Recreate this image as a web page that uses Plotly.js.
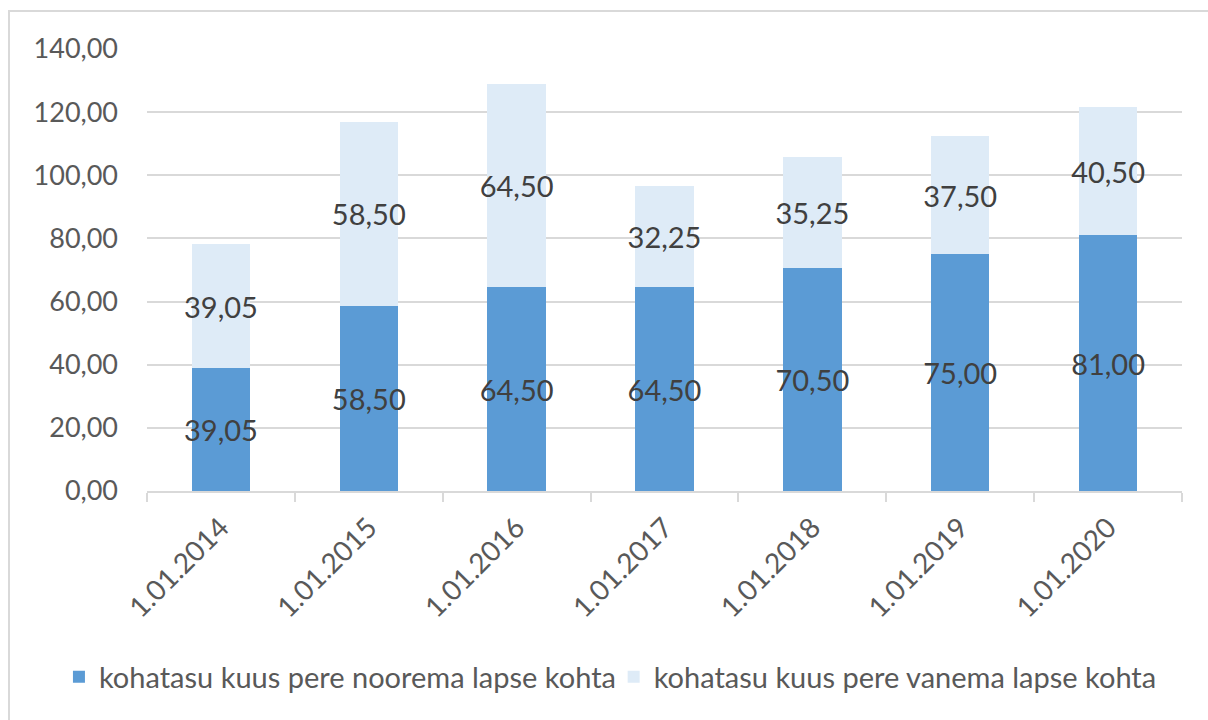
<!DOCTYPE html>
<html>
<head>
<meta charset="utf-8">
<script src="https://cdn.plot.ly/plotly-3.0.1.min.js"></script>
<style>
  html, body { margin: 0; padding: 0; background: #fff; }
  #chart { width: 1208px; height: 720px; }
</style>
</head>
<body>
<div id="chart"></div>
<script>
const categories = ["1.01.2014", "1.01.2015", "1.01.2016", "1.01.2017", "1.01.2018", "1.01.2019", "1.01.2020"];
const youngerChild = [39.05, 58.50, 64.50, 64.50, 70.50, 75.00, 81.00];
const olderChild = [39.05, 58.50, 64.50, 32.25, 35.25, 37.50, 40.50];
const seriesNames = ["kohatasu kuus pere noorema lapse kohta", "kohatasu kuus pere vanema lapse kohta"];
const yTicks = [0, 20, 40, 60, 80, 100, 120, 140];

const FONT = "Lato, 'Noto Sans', sans-serif";
const labelFont = { family: FONT, size: 29, color: "#404040" };

const traces = [
  {
    type: "bar", name: seriesNames[0], x: categories, y: youngerChild,
    marker: { color: "#5b9bd5" }, legend: "legend",
    texttemplate: "%{y:.2f}", textposition: "inside", insidetextanchor: "middle",
    textfont: labelFont, textangle: 0, constraintext: "none", cliponaxis: false,
    hoverinfo: "x+y"
  },
  {
    type: "bar", name: seriesNames[1], x: categories, y: olderChild,
    marker: { color: "#deebf7" }, legend: "legend2",
    texttemplate: "%{y:.2f}", textposition: "inside", insidetextanchor: "middle",
    textfont: labelFont, textangle: 0, constraintext: "none", cliponaxis: false,
    hoverinfo: "x+y"
  }
];

const legendBase = {
  orientation: "h", xref: "container", yref: "container",
  xanchor: "left", y: (720 - 677) / 720, yanchor: "middle",
  font: { family: FONT, size: 29, color: "#595959" },
  itemwidth: 30, bgcolor: "rgba(0,0,0,0)"
};

const layout = {
  width: 1208, height: 720,
  margin: { l: 147, r: 26, t: 49, b: 229 },
  paper_bgcolor: "#ffffff", plot_bgcolor: "#ffffff",
  barmode: "stack", bargap: 0.605,
  separators: ", ",
  font: { family: FONT, color: "#595959", size: 27 },
  showlegend: true,
  legend: Object.assign({}, legendBase, { x: 0.0488 }),
  legend2: Object.assign({}, legendBase, { x: 0.508 }),
  xaxis: {
    type: "category", showgrid: false, showline: true, linecolor: "#d9d9d9", linewidth: 2,
    ticks: "outside", tickson: "boundaries", ticklen: 9, tickcolor: "#d9d9d9", tickwidth: 2,
    tickangle: -45, ticklabelstandoff: 7, tickfont: { family: FONT, size: 28, color: "#595959" },
    fixedrange: true
  },
  yaxis: {
    range: [0, 140], tickvals: yTicks, tickformat: ".2f",
    showgrid: true, gridcolor: "#d9d9d9", gridwidth: 2,
    zeroline: false, showline: false, ticks: "", ticklabelstandoff: 28,
    tickfont: { family: FONT, size: 27, color: "#595959" },
    fixedrange: true
  },
  shapes: [{
    type: "rect", xref: "paper", yref: "paper",
    x0: (9 - 147) / 1035, x1: (1230 - 147) / 1035,
    y0: (491 - 740) / 442, y1: (491 - 11) / 442,
    line: { color: "#d9d9d9", width: 2 }, fillcolor: "rgba(0,0,0,0)", layer: "below"
  }]
};

Plotly.newPlot("chart", traces, layout, { displayModeBar: false, staticPlot: true });
</script>
</body>
</html>
